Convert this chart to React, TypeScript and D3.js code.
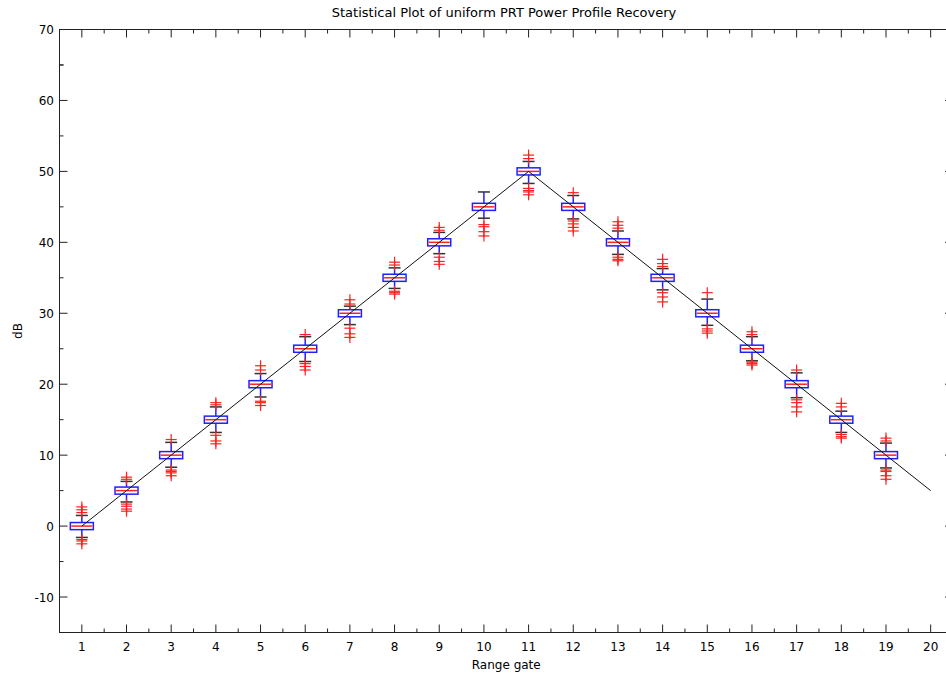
import React from "react";
import * as d3 from "d3";

const gates = [1, 2, 3, 4, 5, 6, 7, 8, 9, 10, 11, 12, 13, 14, 15, 16, 17, 18, 19];
const medians = [0, 5, 10, 15, 20, 25, 30, 35, 40, 45, 50, 45, 40, 35, 30, 25, 20, 15, 10];
const q1s = [-0.5, 4.5, 9.5, 14.5, 19.5, 24.5, 29.5, 34.5, 39.5, 44.5, 49.5, 44.5, 39.5, 34.5, 29.5, 24.5, 19.5, 14.5, 9.5];
const q3s = [0.5, 5.5, 10.5, 15.5, 20.5, 25.5, 30.5, 35.5, 40.5, 45.5, 50.5, 45.5, 40.5, 35.5, 30.5, 25.5, 20.5, 15.5, 10.5];
const whiskerLow = [-1.6, 3.4, 8.3, 13.2, 18.2, 23.2, 28.4, 33.5, 38.4, 43.4, 48.3, 43.3, 38.3, 33.3, 28.3, 23.3, 18.1, 13.2, 8.2];
const whiskerHigh = [1.5, 6.3, 11.8, 16.8, 21.5, 26.7, 31.0, 36.4, 41.4, 47.1, 51.4, 46.6, 41.6, 36.3, 32.0, 26.7, 21.6, 16.2, 11.7];
const outliers = [
  [1.9, 2.3, 2.7, -1.9, -2.1, -2.5],
  [6.6, 6.9, 3.1, 2.8, 2.4, 2.1],
  [12.2, 7.9, 7.7, 7.5, 7.1],
  [17.1, 17.4, 12.8, 12.0, 11.6],
  [22.0, 22.6, 17.6, 17.4, 17.0],
  [27.0, 22.9, 22.5, 22.0],
  [31.3, 31.9, 27.9, 27.1, 26.6],
  [36.8, 37.2, 33.1, 32.9, 32.7],
  [41.7, 42.1, 37.9, 37.3, 36.9],
  [42.5, 42.2, 41.5, 40.9],
  [51.8, 52.3, 47.6, 47.3, 47.1, 46.7],
  [47.0, 43.0, 42.6, 42.1, 41.6],
  [42.0, 42.4, 42.9, 37.9, 37.6, 37.4],
  [36.6, 37.0, 37.6, 32.9, 32.3, 31.6],
  [32.9, 27.8, 27.5, 27.2],
  [27.0, 27.4, 23.1, 22.9, 22.7],
  [22.0, 17.8, 17.4, 16.8, 16.1],
  [16.8, 17.3, 12.9, 12.6, 12.4],
  [12.0, 12.4, 7.9, 7.7, 7.1, 6.6],
];
const profileGates = [1, 2, 3, 4, 5, 6, 7, 8, 9, 10, 11, 12, 13, 14, 15, 16, 17, 18, 19, 20];
const profileValues = [0, 5, 10, 15, 20, 25, 30, 35, 40, 45, 50, 45, 40, 35, 30, 25, 20, 15, 10, 5];
const xTicks = [1, 2, 3, 4, 5, 6, 7, 8, 9, 10, 11, 12, 13, 14, 15, 16, 17, 18, 19, 20];
const yTicks = [-10, 0, 10, 20, 30, 40, 50, 60, 70];

const W = 946;
const H = 679;
const L = 59.5;
const R = 953;
const T = 29.5;
const B = 632.5;
const FONT = "'DejaVu Sans', 'Liberation Sans', Arial, sans-serif";

export default function App() {
  const x = d3.scaleLinear().domain([0.5, 20.5]).range([L, R]);
  const y = d3.scaleLinear().domain([-15, 70]).range([B, T]);
  const line = d3
    .line<number>()
    .x((_, i) => x(profileGates[i]))
    .y((d) => y(d));

  const xMinor = d3.range(1.5, 20.5, 1);
  const yMinor = d3.range(-15, 70, 10).concat([65]);
  const boxW = 23;
  const capW = 12;
  const plus = 5.5;
  const axisColor = "#222";

  return (
    <svg
      width={W}
      height={H}
      style={{ position: "absolute", left: 0, top: 0, background: "#fff" }}
      fontFamily={FONT}
    >
      <rect x={0} y={0} width={W} height={H} fill="#fff" />
      {gates.map((g, i) => {
        const cx = x(g);
        return (
          <g key={g}>
            <line x1={cx} x2={cx} y1={y(q3s[i])} y2={y(whiskerHigh[i])} stroke="#2020ff" strokeWidth={1.5} />
            <line x1={cx} x2={cx} y1={y(q1s[i])} y2={y(whiskerLow[i])} stroke="#2020ff" strokeWidth={1.5} />
            <line x1={cx - capW / 2} x2={cx + capW / 2} y1={y(whiskerHigh[i])} y2={y(whiskerHigh[i])} stroke="#333" strokeWidth={1.5} />
            <line x1={cx - capW / 2} x2={cx + capW / 2} y1={y(whiskerLow[i])} y2={y(whiskerLow[i])} stroke="#333" strokeWidth={1.5} />
            <rect
              x={cx - boxW / 2}
              y={y(q3s[i])}
              width={boxW}
              height={y(q1s[i]) - y(q3s[i])}
              fill="#fff"
              stroke="#2020ff"
              strokeWidth={1.5}
            />
            <line x1={cx - boxW / 2 + 1} x2={cx + boxW / 2 - 1} y1={y(medians[i])} y2={y(medians[i])} stroke="#ff2020" strokeWidth={1.5} />
            {outliers[i].map((v, j) => (
              <g key={j} stroke="#ff2020" strokeWidth={1.2}>
                <line x1={cx - plus} x2={cx + plus} y1={y(v)} y2={y(v)} />
                <line x1={cx} x2={cx} y1={y(v) - plus} y2={y(v) + plus} />
              </g>
            ))}
          </g>
        );
      })}
      <path d={line(profileValues) || ""} fill="none" stroke="#111" strokeWidth={1} />
      <rect x={L} y={T} width={R - L} height={B - T} fill="none" stroke={axisColor} strokeWidth={1} />
      {xTicks.map((t) => (
        <g key={"xt" + t}>
          <line x1={x(t)} x2={x(t)} y1={B} y2={B - 8} stroke={axisColor} />
          <line x1={x(t)} x2={x(t)} y1={T} y2={T + 8} stroke={axisColor} />
          <text x={x(t)} y={651} textAnchor="middle" fontSize={12} fill="#000">
            {t}
          </text>
        </g>
      ))}
      {xMinor.map((t) => (
        <g key={"xm" + t}>
          <line x1={x(t)} x2={x(t)} y1={B} y2={B - 4} stroke={axisColor} />
          <line x1={x(t)} x2={x(t)} y1={T} y2={T + 4} stroke={axisColor} />
        </g>
      ))}
      {yTicks.map((t) => (
        <g key={"yt" + t}>
          <line x1={L} x2={L + 8} y1={y(t)} y2={y(t)} stroke={axisColor} />
          <line x1={R} x2={R - 8} y1={y(t)} y2={y(t)} stroke={axisColor} />
          <text x={54} y={y(t) + 4.5} textAnchor="end" fontSize={12} fill="#000">
            {t}
          </text>
        </g>
      ))}
      {yMinor.map((t) => (
        <g key={"ym" + t}>
          <line x1={L} x2={L + 4} y1={y(t)} y2={y(t)} stroke={axisColor} />
          <line x1={R} x2={R - 4} y1={y(t)} y2={y(t)} stroke={axisColor} />
        </g>
      ))}
      <text x={504} y={17} textAnchor="middle" fontSize={13} fill="#000">
        Statistical Plot of uniform PRT Power Profile Recovery
      </text>
      <text x={(L + R) / 2} y={669} textAnchor="middle" fontSize={12} fill="#000">
        Range gate
      </text>
      <text transform={`translate(22, ${(T + B) / 2}) rotate(-90)`} textAnchor="middle" fontSize={12} fill="#000">
        dB
      </text>
    </svg>
  );
}
